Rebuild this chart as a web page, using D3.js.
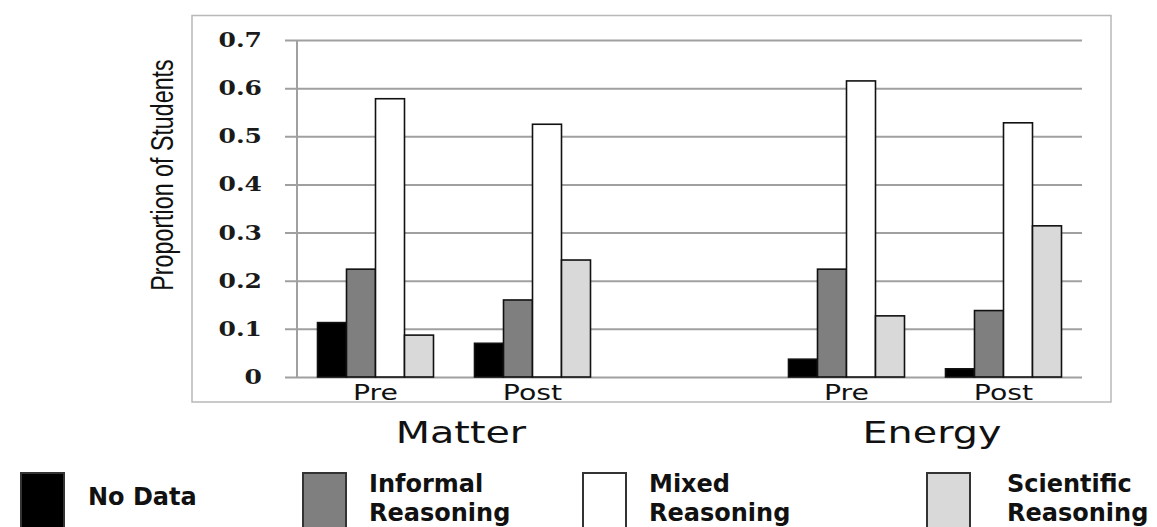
<!DOCTYPE html>
<html>
<head>
<meta charset="utf-8">
<script src="https://cdn.jsdelivr.net/npm/d3@7"></script>
<style>
  html, body { margin: 0; padding: 0; background: #fff; }
  svg { display: block; }
</style>
</head>
<body>
<svg id="chart" width="1157" height="527"></svg>
<script>
// ---- data ----
const categories = ["Pre", "Post", "", "Pre", "Post"];
const groups = ["Matter", "Energy"];
const series = ["No Data", "Informal Reasoning", "Mixed Reasoning", "Scientific Reasoning"];
const noData     = [0.113, 0.070, null, 0.037, 0.017];
const informal   = [0.224, 0.160, null, 0.224, 0.138];
const mixed      = [0.578, 0.525, null, 0.615, 0.528];
const scientific = [0.087, 0.243, null, 0.127, 0.314];
const yTicks = [0, 0.1, 0.2, 0.3, 0.4, 0.5, 0.6, 0.7];
const yTickLabels = ["0", "0.1", "0.2", "0.3", "0.4", "0.5", "0.6", "0.7"];
const legendLines = [["No Data"], ["Informal", "Reasoning"], ["Mixed", "Reasoning"], ["Scientific", "Reasoning"]];

// ---- styles / layout ----
const fills = ["#000000", "#7f7f7f", "#ffffff", "#d9d9d9"];
const legendBoxX = [21, 303, 583, 927];
const legendTextX = [88, 369, 649, 1007];

const values = [noData, informal, mixed, scientific];
const svg = d3.select("#chart");

// outer border
svg.append("rect").attr("x", 192).attr("y", 15.5).attr("width", 919).attr("height", 386.5)
  .attr("fill", "none").attr("stroke", "#b8b8b8").attr("stroke-width", 1.5);

const x0 = d3.scaleBand().domain(d3.range(categories.length)).range([297, 1082]).padding(0);
const x1 = d3.scaleBand().domain(series).range([0, 116]).padding(0);
const groupOffset = (x0.bandwidth() - 116) / 2;
const y = d3.scaleLinear().domain([0, 0.7]).range([377, 40]);

// gridlines via axis
const gridAxis = d3.axisLeft(y).tickValues(yTicks).tickSize(-(1082 - 285)).tickFormat("");
const gg = svg.append("g").attr("transform", "translate(285,0)").call(gridAxis);
gg.select(".domain").remove();
gg.selectAll(".tick line").attr("stroke", "#a0a0a0").attr("stroke-width", 2);

// y axis line
svg.append("line").attr("x1", 297).attr("x2", 297).attr("y1", y(0.7)).attr("y2", y(0))
  .attr("stroke", "#a0a0a0").attr("stroke-width", 2);

// tick labels
svg.append("g").selectAll("text").data(yTicks).join("text")
  .attr("transform", d => `translate(262,${y(d) + 7}) scale(1.25,1)`)
  .attr("text-anchor", "end")
  .attr("font-family", "DejaVu Serif").attr("font-weight", "bold").attr("font-size", 20)
  .attr("fill", "#1a1a1a")
  .text((d, i) => yTickLabels[i]);

// bars
const barData = [];
categories.forEach((c, ci) => {
  series.forEach((s, si) => {
    const v = values[si][ci];
    if (v != null) barData.push({ ci, s, si, v });
  });
});
svg.append("g").selectAll("rect").data(barData).join("rect")
  .attr("x", d => x0(d.ci) + groupOffset + x1(d.s))
  .attr("width", x1.bandwidth())
  .attr("y", d => y(d.v))
  .attr("height", d => y(0) - y(d.v))
  .attr("fill", d => fills[d.si])
  .attr("stroke", "#111").attr("stroke-width", 1.6);

// category labels
svg.append("g").selectAll("text").data(categories.map((c, i) => ({ c, i })).filter(d => d.c))
  .join("text")
  .attr("transform", d => `translate(${x0(d.i) + x0.bandwidth() / 2},400) scale(1.35,1)`)
  .attr("text-anchor", "middle")
  .attr("font-family", "DejaVu Sans").attr("font-size", 21).attr("fill", "#111")
  .text(d => d.c);

// group labels
const groupCenters = [
  (x0(0) + x0(1) + x0.bandwidth()) / 2 + 7,
  (x0(3) + x0(4) + x0.bandwidth()) / 2 + 7
];
svg.append("g").selectAll("text").data(groups).join("text")
  .attr("transform", (d, i) => `translate(${groupCenters[i]},443) scale(1.28,1)`)
  .attr("text-anchor", "middle")
  .attr("font-family", "DejaVu Sans").attr("font-size", 31).attr("fill", "#111")
  .text(d => d);

// y-axis title
svg.append("text")
  .attr("transform", "translate(173,175) rotate(-90) scale(0.75,1)")
  .attr("text-anchor", "middle")
  .attr("font-family", "Liberation Sans").attr("font-size", 31).attr("fill", "#111")
  .text("Proportion of Students");

// legend
const lg = svg.append("g");
series.forEach((s, i) => {
  lg.append("rect").attr("x", legendBoxX[i]).attr("y", 473).attr("width", 43).attr("height", 60)
    .attr("fill", fills[i]).attr("stroke", "#333").attr("stroke-width", 2);
  const lines = legendLines[i];
  const t = lg.append("text").attr("font-family", "DejaVu Sans").attr("font-weight", "bold")
    .attr("font-size", 24).attr("fill", "#111");
  if (lines.length === 1) {
    t.append("tspan").attr("x", legendTextX[i]).attr("y", 505).text(lines[0]);
  } else {
    lines.forEach((ln, k) => {
      t.append("tspan").attr("x", legendTextX[i]).attr("y", 492 + k * 29).text(ln);
    });
  }
});
</script>
</body>
</html>
